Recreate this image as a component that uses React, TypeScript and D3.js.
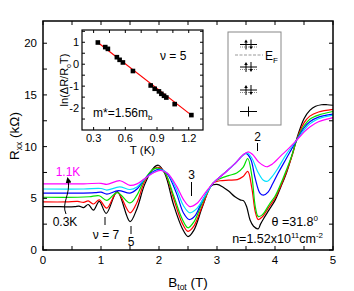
import React from 'react';
import * as d3 from 'd3';

// ---------- main curves: B_tot (T) vs R_xx (kOhm) ----------
const blackB = [0, 0.2, 0.4, 0.55, 0.62, 0.7, 0.78, 0.87, 0.97, 1.09, 1.28, 1.5, 1.62, 1.75, 1.9, 1.99, 2.1, 2.25, 2.4, 2.5, 2.6, 2.75, 2.9, 3.0, 3.1, 3.2, 3.31, 3.4, 3.46, 3.51, 3.57, 3.63, 3.71, 3.75, 3.8, 3.9, 4.0, 4.1, 4.2, 4.3, 4.4, 4.5, 4.6, 4.7, 4.8, 4.9, 5.0];
const blackR = [4.2, 4.2, 4.18, 4.2, 4.25, 4.1, 4.4, 3.85, 4.7, 3.55, 5.65, 2.75, 4.0, 6.3, 7.9, 8.2, 7.4, 4.4, 2.1, 1.3, 1.9, 4.2, 6.2, 6.35, 6.1, 5.7, 5.15, 4.85, 4.75, 4.2, 2.9, 2.3, 2.05, 2.5, 3.0, 3.9, 4.8, 6.1, 7.5, 9.3, 11.2, 12.7, 13.5, 13.9, 14.05, 14.05, 14.0];

const redB = [0, 0.4, 0.6, 0.7, 0.78, 0.87, 0.97, 1.1, 1.28, 1.5, 1.62, 1.75, 1.9, 1.99, 2.1, 2.25, 2.4, 2.5, 2.6, 2.75, 2.93, 3.05, 3.2, 3.35, 3.45, 3.53, 3.6, 3.66, 3.71, 3.78, 3.9, 4.0, 4.1, 4.2, 4.3, 4.37, 4.5, 4.6, 4.75, 5.0];
const redR = [4.65, 4.65, 4.7, 4.6, 4.75, 4.45, 4.85, 4.05, 5.6, 3.6, 4.6, 6.6, 7.8, 8.0, 7.5, 5.0, 2.6, 1.8, 2.3, 4.3, 6.45, 6.7, 6.75, 6.8, 7.1, 7.6, 6.0, 3.7, 2.95, 3.2, 4.2, 5.0, 6.2, 7.6, 9.2, 10.6, 12.3, 12.95, 13.35, 13.6];

const greenB = [0, 0.6, 0.8, 0.97, 1.1, 1.28, 1.5, 1.62, 1.75, 1.9, 2.0, 2.1, 2.25, 2.4, 2.5, 2.6, 2.75, 2.93, 3.05, 3.2, 3.34, 3.45, 3.53, 3.6, 3.66, 3.71, 3.78, 3.9, 4.0, 4.1, 4.2, 4.3, 4.37, 4.5, 4.6, 4.75, 5.0];
const greenR = [5.1, 5.1, 5.15, 5.25, 4.8, 5.55, 4.55, 5.3, 6.8, 7.8, 7.9, 7.5, 5.3, 3.0, 2.15, 2.7, 4.6, 6.45, 6.9, 7.2, 7.45, 8.0, 8.85, 7.2, 4.2, 3.25, 3.4, 4.4, 5.2, 6.4, 7.8, 9.3, 10.6, 12.0, 12.65, 13.05, 13.4];

const blueB = [0, 0.6, 0.9, 1.0, 1.1, 1.3, 1.5, 1.62, 1.75, 1.9, 2.02, 2.15, 2.3, 2.42, 2.52, 2.62, 2.75, 2.93, 3.1, 3.3, 3.45, 3.5, 3.58, 3.66, 3.74, 3.8, 3.88, 3.96, 4.05, 4.15, 4.25, 4.37, 4.5, 4.6, 4.75, 5.0];
const blueR = [5.5, 5.5, 5.55, 5.6, 5.4, 5.75, 5.5, 5.9, 6.85, 7.6, 7.8, 7.3, 5.5, 3.6, 2.95, 3.3, 4.8, 6.45, 7.3, 8.3, 9.2, 9.35, 8.8, 6.9, 5.5, 5.3, 5.6, 6.4, 7.4, 8.4, 9.4, 10.6, 11.8, 12.4, 12.85, 13.15];

const cyanB = [0, 0.7, 1.0, 1.1, 1.32, 1.5, 1.62, 1.75, 1.9, 2.03, 2.15, 2.3, 2.42, 2.53, 2.65, 2.78, 2.93, 3.1, 3.3, 3.45, 3.52, 3.6, 3.7, 3.8, 3.87, 3.95, 4.05, 4.2, 4.37, 4.5, 4.6, 4.75, 5.0];
const cyanR = [5.9, 5.9, 5.95, 5.8, 6.1, 5.85, 6.1, 6.85, 7.5, 7.75, 7.4, 5.9, 4.3, 3.6, 4.0, 5.1, 6.45, 7.3, 8.3, 9.15, 9.4, 8.9, 7.6, 6.75, 6.65, 7.1, 7.9, 9.3, 10.6, 11.6, 12.2, 12.7, 13.05];

const magentaB = [0, 0.7, 1.0, 1.1, 1.33, 1.5, 1.62, 1.75, 1.9, 2.03, 2.15, 2.3, 2.42, 2.53, 2.65, 2.78, 2.93, 3.1, 3.3, 3.45, 3.54, 3.62, 3.72, 3.86, 3.95, 4.1, 4.25, 4.37, 4.5, 4.6, 4.75, 5.0];
const magentaR = [6.4, 6.4, 6.45, 6.35, 6.7, 6.25, 6.4, 6.9, 7.45, 7.7, 7.4, 6.2, 4.9, 4.2, 4.5, 5.4, 6.45, 7.3, 8.3, 9.2, 9.5, 9.2, 8.5, 8.05, 8.3, 9.1, 9.9, 10.6, 11.4, 11.9, 12.4, 12.8];

const seriesNames = ['0.3K', 'T2', 'T3', 'T4', 'T5', '1.1K'];
const seriesColors = ['#000000', '#ff0000', '#00e000', '#0000ff', '#00e0ff', '#ff00ff'];
const seriesB = [blackB, redB, greenB, blueB, cyanB, magentaB];
const seriesR = [blackR, redR, greenR, blueR, cyanR, magentaR];

// ---------- inset: T (K) vs ln(dR/R0 T) ----------
const insetT = [0.34, 0.41, 0.435, 0.52, 0.546, 0.577, 0.672, 0.84, 0.878, 0.918, 0.941, 0.966, 0.988, 1.067, 1.225];
const insetLn = [0.99, 0.78, 0.70, 0.32, 0.20, 0.08, -0.31, -0.97, -1.12, -1.24, -1.35, -1.44, -1.52, -1.82, -2.32];
const fitT = [0.34, 1.24];
const fitSlope = -3.74;
const fitIntercept = 2.26;

const xTicksMain = [0, 1, 2, 3, 4, 5];
const yTicksMain = [0, 5, 10, 15, 20];
const xTicksInset = [0.3, 0.6, 0.9, 1.2];
const yTicksInset = [-2, -1, 0, 1];

const FONT = '"Liberation Sans", Arial, Helvetica, sans-serif';

export default function App() {
  const W = 354, H = 291;
  const x = d3.scaleLinear().domain([0, 5]).range([43, 333]);
  const y = d3.scaleLinear().domain([0, 22.15]).range([250, 21]);
  const line = d3.line<[number, number]>()
    .x(d => x(d[0])).y(d => y(d[1]))
    .curve(d3.curveCatmullRom.alpha(0.5));

  const ix = d3.scaleLinear().domain([0.19, 1.335]).range([82, 203]);
  const iy = d3.scaleLinear().domain([-3, 1.56]).range([130, 30]);

  const xMinor = d3.range(0, 5.001, 0.5);
  const yMinor = d3.range(0, 22.1, 2.5);
  const ixMinor = d3.range(0.3, 1.34, 0.15);
  const iyMinor = d3.range(-2.5, 1.56, 0.5);

  const tk = 4;
  const [x0, x1] = x.range();
  const [y0, y1] = y.range();
  const [ix0, ix1] = ix.range();
  const [iy0, iy1] = iy.range();

  // legend box geometry
  const lgX = 228, lgY = 32, lgW = 53, lgH = 93;
  const symX = 248.5;
  const symYs = [44.5, 67, 90];
  const symBottom = 111.5;

  return (
    <svg width={W} height={H} style={{ position: 'absolute', left: 0, top: 0, background: '#fff' }} fontFamily={FONT}>
      <defs>
        <marker id="ah" markerWidth="6" markerHeight="6" refX="3" refY="3" orient="auto">
          <path d="M0,0 L6,3 L0,6 z" fill="#000" />
        </marker>
      </defs>
      {/* curves */}
      <g fill="none" strokeWidth={1.2}>
        {seriesB.map((bs, i) => (
          <path key={seriesNames[i]} d={line(bs.map((b, j) => [b, seriesR[i][j]]) as [number, number][]) || ''} stroke={seriesColors[i]} />
        ))}
      </g>

      {/* main frame */}
      <rect x={x0} y={y1} width={x1 - x0} height={y0 - y1} fill="none" stroke="#000" strokeWidth={1.5} />
      <g stroke="#000" strokeWidth={1}>
        {xMinor.map(v => (
          <g key={'xt' + v}>
            <line x1={x(v)} x2={x(v)} y1={y0} y2={y0 - tk} />
            <line x1={x(v)} x2={x(v)} y1={y1} y2={y1 + tk} />
          </g>
        ))}
        {yMinor.map(v => (
          <g key={'yt' + v}>
            <line x1={x0} x2={x0 + tk} y1={y(v)} y2={y(v)} />
            <line x1={x1} x2={x1 - tk} y1={y(v)} y2={y(v)} />
          </g>
        ))}
      </g>
      <g fontSize={11.5} fill="#000">
        {xTicksMain.map(v => (
          <text key={'xl' + v} x={x(v)} y={264} textAnchor="middle">{v}</text>
        ))}
        {yTicksMain.map(v => (
          <text key={'yl' + v} x={37} y={y(v) + 4} textAnchor="end">{v}</text>
        ))}
      </g>
      <text x={188} y={287} textAnchor="middle" fontSize={13.5}>
        B<tspan fontSize={8.5} dy={3}>tot</tspan><tspan dy={-3}> (T)</tspan>
      </text>
      <text transform={`translate(19,136) rotate(-90)`} textAnchor="middle" fontSize={13.5}>
        R<tspan fontSize={8.5} dy={3}>xx</tspan><tspan dy={-3}> (kΩ)</tspan>
      </text>

      {/* annotations */}
      <text x={68} y={176} textAnchor="middle" fontSize={12} fill="#ff00ff">1.1K</text>
      <text x={65} y={226} textAnchor="middle" fontSize={12}>0.3K</text>
      <path d="M66,214 C61,203 71,194 68,180" fill="none" stroke="#000" strokeWidth={1} markerEnd="url(#ah)" />
      <g stroke="#000" strokeWidth={1}>
        <line x1={105} x2={105} y1={217} y2={225} />
        <line x1={131} x2={131} y1={226} y2={234} />
        <line x1={191.5} x2={191.5} y1={182} y2={196} />
        <line x1={257.5} x2={257.5} y1={143} y2={151} />
      </g>
      <text x={106} y={239} textAnchor="middle" fontSize={12}>ν = 7</text>
      <text x={131} y={246} textAnchor="middle" fontSize={12}>5</text>
      <text x={191.5} y={179} textAnchor="middle" fontSize={12}>3</text>
      <text x={257.5} y={141} textAnchor="middle" fontSize={12}>2</text>
      <text x={318} y={226} textAnchor="end" fontSize={12.5}>
        θ =31.8<tspan fontSize={8} dy={-5}>0</tspan>
      </text>
      <text x={323} y={243} textAnchor="end" fontSize={12.5}>
        n=1.52x10<tspan fontSize={8} dy={-5}>11</tspan><tspan dy={5}>cm</tspan><tspan fontSize={8} dy={-5}>-2</tspan>
      </text>

      {/* inset */}
      <rect x={ix0} y={iy1} width={ix1 - ix0} height={iy0 - iy1} fill="#fff" stroke="#000" strokeWidth={1.2} />
      <g stroke="#000" strokeWidth={1}>
        {ixMinor.map(v => (
          <g key={'ixt' + v}>
            <line x1={ix(v)} x2={ix(v)} y1={iy0} y2={iy0 - 3} />
            <line x1={ix(v)} x2={ix(v)} y1={iy1} y2={iy1 + 3} />
          </g>
        ))}
        {iyMinor.map(v => (
          <g key={'iyt' + v}>
            <line x1={ix0} x2={ix0 + 3} y1={iy(v)} y2={iy(v)} />
            <line x1={ix1} x2={ix1 - 3} y1={iy(v)} y2={iy(v)} />
          </g>
        ))}
      </g>
      <g fontSize={11}>
        {xTicksInset.map(v => (
          <text key={'ixl' + v} x={ix(v)} y={141.5} textAnchor="middle">{v.toFixed(1)}</text>
        ))}
        {yTicksInset.map(v => (
          <text key={'iyl' + v} x={79} y={iy(v) + 4} textAnchor="end">{v}</text>
        ))}
      </g>
      <text x={142.5} y={154} textAnchor="middle" fontSize={11.5}>T (K)</text>
      <text transform={`translate(68,80) rotate(-90)`} textAnchor="middle" fontSize={11}>
        ln(ΔR/R<tspan fontSize={7} dy={2.5}>o</tspan><tspan dy={-2.5}>T)</tspan>
      </text>
      <line x1={ix(fitT[0])} x2={ix(fitT[1])} y1={iy(fitIntercept + fitSlope * fitT[0])} y2={iy(fitIntercept + fitSlope * fitT[1])} stroke="#ff0000" strokeWidth={1.2} />
      <g fill="#000">
        {insetT.map((t, i) => (
          <rect key={'p' + i} x={ix(t) - 2.3} y={iy(insetLn[i]) - 2.3} width={4.6} height={4.6} />
        ))}
      </g>
      <text x={160} y={60} fontSize={12}>ν = 5</text>
      <text x={93} y={117} fontSize={12}>
        m*=1.56m<tspan fontSize={8} dy={3}>b</tspan>
      </text>

      {/* energy level legend */}
      <rect x={lgX} y={lgY} width={lgW} height={lgH} fill="#fff" stroke="#888" strokeWidth={1} />
      <line x1={235} x2={263} y1={55} y2={55} stroke="#999" strokeWidth={1} strokeDasharray="3,1.5" />
      <text x={265} y={60} fontSize={12}>E<tspan fontSize={8} dy={3}>F</tspan></text>
      {symYs.map(sy => (
        <g key={'s' + sy}>
          <line x1={symX - 8.5} x2={symX + 8.5} y1={sy} y2={sy} stroke="#000" strokeWidth={1} />
          <line x1={symX - 8.5} x2={symX + 8.5} y1={sy + 2.5} y2={sy + 2.5} stroke="#888" strokeWidth={1} strokeDasharray="1,1" />
          <line x1={symX - 2.5} x2={symX - 2.5} y1={sy + 5} y2={sy - 3} stroke="#000" strokeWidth={1} />
          <path d={`M${symX - 4.3},${sy - 2} L${symX - 2.5},${sy - 5} L${symX - 0.7},${sy - 2} z`} fill="#000" />
          <line x1={symX + 2.5} x2={symX + 2.5} y1={sy - 5} y2={sy + 3} stroke="#000" strokeWidth={1} />
          <path d={`M${symX + 0.7},${sy + 2} L${symX + 2.5},${sy + 5} L${symX + 4.3},${sy + 2} z`} fill="#000" />
        </g>
      ))}
      <line x1={symX - 8.5} x2={symX + 8.5} y1={symBottom} y2={symBottom} stroke="#000" strokeWidth={1} />
      <line x1={symX} x2={symX} y1={symBottom + 5} y2={symBottom - 5} stroke="#000" strokeWidth={1} />
    </svg>
  );
}
